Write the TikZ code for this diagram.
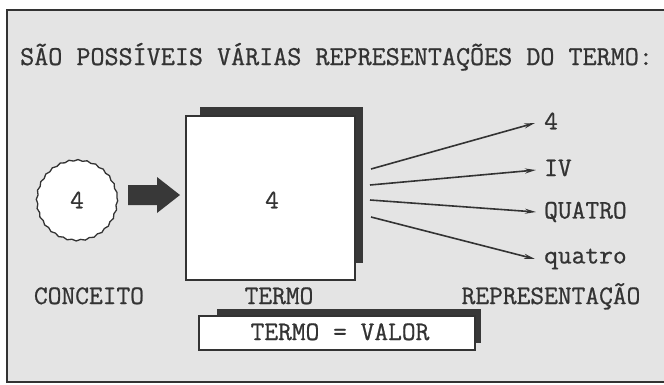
\documentclass[tikz,border=0pt]{standalone}
\usepackage{fontspec}
\setmonofont{Latin Modern Mono}[FakeBold=0.8]
\usetikzlibrary{arrows.meta,decorations.pathmorphing}
\definecolor{bg}{HTML}{E4E4E4}
\definecolor{ink}{HTML}{333333}
\definecolor{darkfill}{HTML}{383838}
\tikzset{
  lbl/.style={text=ink, font=\ttfamily\fontsize{26.7}{28}\selectfont, inner sep=0pt},
  ttl/.style={text=ink, font=\ttfamily\fontsize{27.3}{29}\selectfont, inner sep=0pt},
  rep/.style={draw=ink, line width=1.6pt, -{Stealth[length=11pt,width=5pt]}},
  whitebox/.style={fill=white, draw=ink, line width=1.4pt},
  shadowbox/.style={fill=darkfill, draw=none}
}
\begin{document}
\begin{tikzpicture}[x=1pt,y=-1pt]
\useasboundingbox (0,0) rectangle (664,384);
\fill[white] (0,0) rectangle (664,384);
% frame
\draw[fill=bg, draw=ink, line width=2.2pt] (7,10) rectangle (675,382);
% title
\node[ttl, anchor=base west] (title) at (20,65) {SÃO POSSÍVEIS VÁRIAS REPRESENTAÇÕES DO TERMO:};
% concept circle
\draw[fill=white, draw=ink, line width=1.3pt, decorate, decoration={snake, segment length=9pt, amplitude=0.7pt}] (77,198) circle (40);
\node[lbl] (conc) at (77,200) {4};
% block arrow
\fill[darkfill] (128,185) -- (157,185) -- (157,177) -- (180,195) -- (157,213) -- (157,205) -- (128,205) -- cycle;
% term box
\fill[shadowbox] (200,107) rectangle (363,263);
\draw[whitebox] (186,116) rectangle (355,280);
\node[lbl] (termo) at (272,200) {4};
% representations
\node[lbl, anchor=west] (r1) at (544,121) {4};
\node[lbl, anchor=west] (r2) at (544,168) {IV};
\node[lbl, anchor=west] (r3) at (544,212) {QUATRO};
\node[lbl, anchor=west] (r4) at (544,259) {quatro};
\coordinate (s1) at (371,169);
\coordinate (s2) at (370,185);
\coordinate (s3) at (370,200);
\coordinate (s4) at (371,217);
\coordinate (e1) at (535,123);
\coordinate (e2) at (536,170);
\coordinate (e3) at (536,212);
\coordinate (e4) at (535,259);
\draw[rep] (s1) -- (e1);
\draw[rep] (s2) -- (e2);
\draw[rep] (s3) -- (e3);
\draw[rep] (s4) -- (e4);
% bottom labels
\node[lbl, anchor=base] (lc) at (89,304) {CONCEITO};
\node[lbl, anchor=base] (lt) at (279,304) {TERMO};
\node[lbl, anchor=base] (lr) at (551,304) {REPRESENTAÇÃO};
% termo = valor
\fill[shadowbox] (217,309) rectangle (481,343);
\draw[whitebox] (199,316) rectangle (475,350);
\node[lbl, anchor=base] (tv) at (340,340) {TERMO = VALOR};
\end{tikzpicture}
\end{document}
